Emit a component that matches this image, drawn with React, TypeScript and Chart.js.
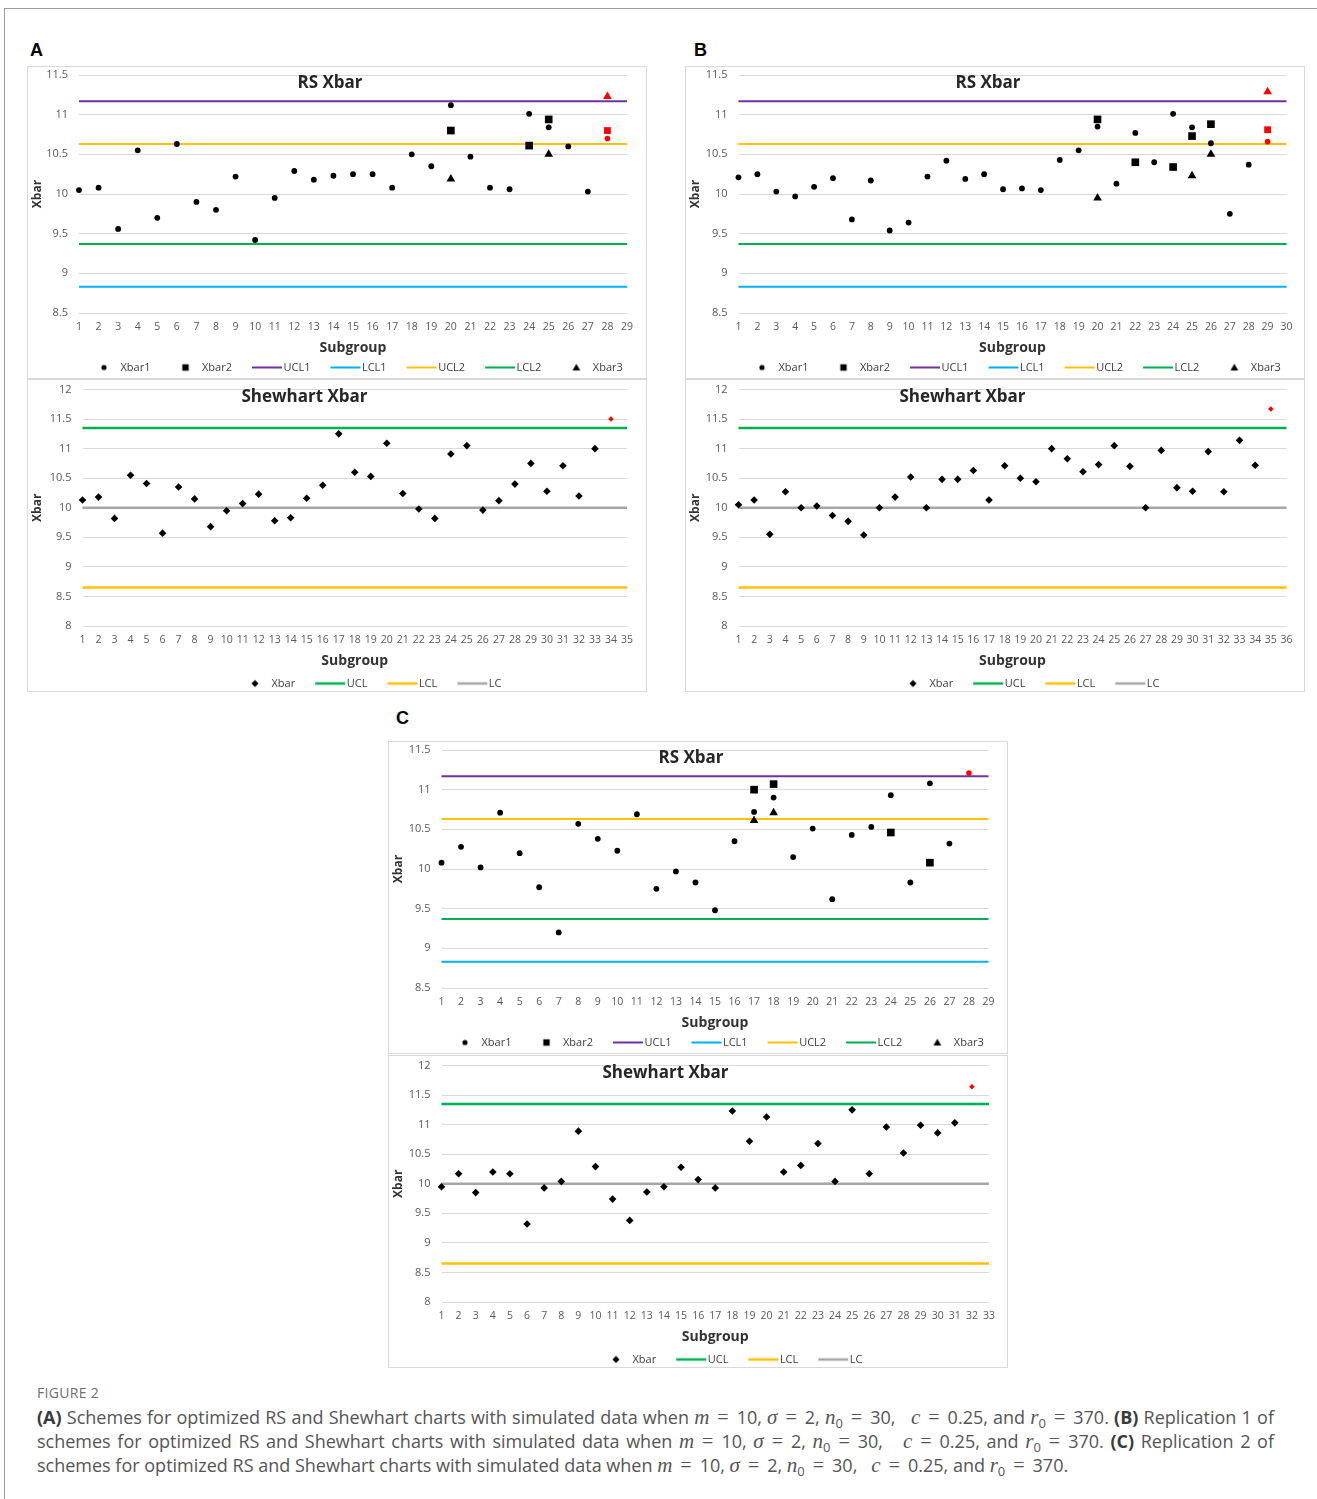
import React, { useEffect, useRef } from "react";
import { Chart, registerables } from "chart.js";

Chart.register(...registerables);

const FONT = "'Open Sans', 'Noto Sans', sans-serif";

// Subgroup numbers on the horizontal axes
const subgroupsA_RS = [1, 2, 3, 4, 5, 6, 7, 8, 9, 10, 11, 12, 13, 14, 15, 16, 17, 18, 19, 20, 21, 22, 23, 24, 25, 26, 27, 28, 29];
const subgroupsA_SH = [1, 2, 3, 4, 5, 6, 7, 8, 9, 10, 11, 12, 13, 14, 15, 16, 17, 18, 19, 20, 21, 22, 23, 24, 25, 26, 27, 28, 29, 30, 31, 32, 33, 34, 35];
const subgroupsB_RS = [1, 2, 3, 4, 5, 6, 7, 8, 9, 10, 11, 12, 13, 14, 15, 16, 17, 18, 19, 20, 21, 22, 23, 24, 25, 26, 27, 28, 29, 30];
const subgroupsB_SH = [1, 2, 3, 4, 5, 6, 7, 8, 9, 10, 11, 12, 13, 14, 15, 16, 17, 18, 19, 20, 21, 22, 23, 24, 25, 26, 27, 28, 29, 30, 31, 32, 33, 34, 35, 36];
const subgroupsC_RS = [1, 2, 3, 4, 5, 6, 7, 8, 9, 10, 11, 12, 13, 14, 15, 16, 17, 18, 19, 20, 21, 22, 23, 24, 25, 26, 27, 28, 29];
const subgroupsC_SH = [1, 2, 3, 4, 5, 6, 7, 8, 9, 10, 11, 12, 13, 14, 15, 16, 17, 18, 19, 20, 21, 22, 23, 24, 25, 26, 27, 28, 29, 30, 31, 32, 33];

// Y-axis ticks
const rsYTicks = [8.5, 9, 9.5, 10, 10.5, 11, 11.5];
const shewhartYTicks = [8, 8.5, 9, 9.5, 10, 10.5, 11, 11.5, 12];

// RS control limits
const UCL1 = 11.17;
const LCL1 = 8.83;
const UCL2 = 10.63;
const LCL2 = 9.37;

// Shewhart control limits
const SH_UCL = 11.35;
const SH_LCL = 8.65;
const SH_LC = 10;

// Panel A: RS sample means (null = no sample taken)
const xbar1A = [10.05, 10.08, 9.56, 10.55, 9.70, 10.63, 9.90, 9.80, 10.22, 9.42,
  9.95, 10.29, 10.18, 10.23, 10.25, 10.25, 10.08, 10.50, 10.35, 11.12,
  10.47, 10.08, 10.06, 11.01, 10.84, 10.60, 10.03, 10.70, null];
const xbar2A = [null, null, null, null, null, null, null, null, null, null,
  null, null, null, null, null, null, null, null, null, 10.80,
  null, null, null, 10.61, 10.94, null, null, 10.80, null];
const xbar3A = [null, null, null, null, null, null, null, null, null, null,
  null, null, null, null, null, null, null, null, null, 10.19,
  null, null, null, null, 10.50, null, null, 11.23, null];
const shewhartA = [10.13, 10.18, 9.82, 10.55, 10.41, 9.57, 10.35, 10.15, 9.68, 9.95,
  10.07, 10.23, 9.78, 9.83, 10.16, 10.38, 11.25, 10.60, 10.53, 11.09,
  10.24, 9.98, 9.82, 10.91, 11.05, 9.96, 10.12, 10.40, 10.75, 10.28,
  10.71, 10.20, 11.00, 11.50, null];

// Panel B: replication 1
const xbar1B = [10.21, 10.25, 10.03, 9.97, 10.09, 10.20, 9.68, 10.17, 9.54, 9.64,
  10.22, 10.42, 10.19, 10.25, 10.06, 10.07, 10.05, 10.43, 10.55, 10.85,
  10.13, 10.77, 10.40, 11.01, 10.84, 10.64, 9.75, 10.37, 10.66, null];
const xbar2B = [null, null, null, null, null, null, null, null, null, null,
  null, null, null, null, null, null, null, null, null, 10.94,
  null, 10.40, null, 10.34, 10.73, 10.88, null, null, 10.81, null];
const xbar3B = [null, null, null, null, null, null, null, null, null, null,
  null, null, null, null, null, null, null, null, null, 9.95,
  null, null, null, null, 10.23, 10.50, null, null, 11.29, null];
const shewhartB = [10.05, 10.13, 9.55, 10.27, 10.00, 10.03, 9.87, 9.77, 9.54, 10.00,
  10.18, 10.52, 10.00, 10.48, 10.48, 10.63, 10.13, 10.71, 10.50, 10.44,
  11.00, 10.83, 10.61, 10.73, 11.05, 10.70, 10.00, 10.97, 10.34, 10.28,
  10.95, 10.27, 11.14, 10.72, 11.67, null];

// Panel C: replication 2
const xbar1C = [10.08, 10.28, 10.02, 10.71, 10.20, 9.77, 9.20, 10.57, 10.38, 10.23,
  10.69, 9.75, 9.97, 9.83, 9.48, 10.35, 10.72, 10.90, 10.15, 10.51,
  9.62, 10.43, 10.53, 10.93, 9.83, 11.08, 10.32, 11.21, null];
const xbar2C = [null, null, null, null, null, null, null, null, null, null,
  null, null, null, null, null, null, 11.00, 11.07, null, null,
  null, null, null, 10.46, null, 10.08, null, null, null];
const xbar3C = [null, null, null, null, null, null, null, null, null, null,
  null, null, null, null, null, null, 10.61, 10.71, null, null,
  null, null, null, null, null, null, null, null, null];
const shewhartC = [9.95, 10.17, 9.85, 10.20, 10.17, 9.32, 9.93, 10.04, 10.89, 10.29,
  9.74, 9.38, 9.86, 9.95, 10.28, 10.07, 9.93, 11.23, 10.72, 11.13,
  10.20, 10.31, 10.68, 10.04, 11.25, 10.17, 10.96, 10.52, 10.99, 10.86,
  11.03, 11.64, null];

// Subgroup at which each chart signals (marked in red)
const signalA_RS = 28;
const signalA_SH = 34;
const signalB_RS = 29;
const signalB_SH = 35;
const signalC_RS = 28;
const signalC_SH = 32;

const PURPLE = "#7030A0";
const BLUE = "#00B0F0";
const GOLD = "#FFC000";
const GREEN = "#00B050";
const GRAY = "#A6A6A6";
const BLACK = "#000000";
const RED = "#FF0000";

const rsLegendOrder = ["Xbar1", "Xbar2", "UCL1", "LCL1", "UCL2", "LCL2", "Xbar3"];
const shewhartLegendOrder = ["Xbar", "UCL", "LCL", "LC"];

const rsLimits = [
  { name: "UCL1", value: UCL1, color: PURPLE },
  { name: "LCL1", value: LCL1, color: BLUE },
  { name: "UCL2", value: UCL2, color: GOLD },
  { name: "LCL2", value: LCL2, color: GREEN },
];
const shewhartLimits = [
  { name: "UCL", value: SH_UCL, color: GREEN },
  { name: "LCL", value: SH_LCL, color: GOLD },
  { name: "LC", value: SH_LC, color: GRAY },
];

type Marker = "circle" | "rect" | "triangle" | "rectRot";
interface PointSeries { name: string; values: (number | null)[]; marker: Marker; }
interface PanelSpec {
  kind: "rs" | "shewhart";
  title: string;
  subgroups: number[];
  yTicks: number[];
  points: PointSeries[];
  limits: { name: string; value: number; color: string }[];
  legendOrder: string[];
  signal: number;
  plotLeft: number;
  plotRight: number;
}

const KIND = {
  rs: { padTop: 8, titleX: 302, titleY: 16.5, legendX: 41, legendY: 300.5, lineWidth: 2 },
  shewhart: { padTop: 9.5, titleX: 276.5, titleY: 17.5, legendX: 192, legendY: 303.5, lineWidth: 2.5 },
};

const MARKER_RADIUS: Record<Marker, number> = { circle: 2.9, rect: 5.4, triangle: 5, rectRot: 3.8 };
const SIGNAL_RADIUS: Record<Marker, number> = { circle: 2.8, rect: 4.8, triangle: 5, rectRot: 2.8 };

const CANVAS_W = 618;
const CANVAS_H = 311;

function makeIcon(kind: string, color: string, lineWidth: number): HTMLCanvasElement {
  const c = document.createElement("canvas");
  c.width = 60;
  c.height = 14;
  const g = c.getContext("2d")!;
  g.fillStyle = color;
  const cx = 42;
  const cy = 7;
  g.beginPath();
  if (kind === "line") {
    g.fillRect(27, cy - lineWidth / 2, 30, lineWidth);
    return c;
  }
  if (kind === "circle") {
    g.arc(cx, cy, 2.6, 0, Math.PI * 2);
  } else if (kind === "rect") {
    g.rect(cx - 3.2, cy - 3.2, 6.4, 6.4);
  } else if (kind === "triangle") {
    g.moveTo(cx, cy - 3.8);
    g.lineTo(cx + 3.9, cy + 3);
    g.lineTo(cx - 3.9, cy + 3);
    g.closePath();
  } else {
    g.moveTo(cx, cy - 3.6);
    g.lineTo(cx + 3.6, cy);
    g.lineTo(cx, cy + 3.6);
    g.lineTo(cx - 3.6, cy);
    g.closePath();
  }
  g.fill();
  return c;
}

// Chart title drawn over the top of the plot area
const panelTitle = {
  id: "panelTitle",
  afterDraw(chart: any, _args: any, opts: any) {
    const ctx = chart.ctx;
    ctx.save();
    ctx.font = `bold 17px ${FONT}`;
    ctx.fillStyle = "#262626";
    ctx.textAlign = "center";
    ctx.textBaseline = "middle";
    ctx.fillText(opts.text, opts.x, opts.y);
    ctx.restore();
  },
};

// Puts the legend row at a fixed place under the axis title
const legendPlacer = {
  id: "legendPlacer",
  afterLayout(chart: any, _args: any, opts: any) {
    const lg = chart.legend;
    if (!lg) return;
    lg.left = opts.x;
    lg.right = opts.x + 2000;
    lg.top = opts.y - 5.5;
    lg.bottom = lg.top + 21;
  },
};

function buildConfig(spec: PanelSpec): any {
  const k = KIND[spec.kind];
  const isSignal = (i: number) => spec.subgroups[i] === spec.signal;

  const pointSets = spec.points.map((p) => ({
    type: "line",
    label: p.name,
    data: p.values,
    showLine: false,
    pointStyle: p.marker,
    pointRadius: (c: any) => (isSignal(c.dataIndex) ? SIGNAL_RADIUS[p.marker] : MARKER_RADIUS[p.marker]),
    pointHoverRadius: (c: any) => (isSignal(c.dataIndex) ? SIGNAL_RADIUS[p.marker] : MARKER_RADIUS[p.marker]),
    pointBackgroundColor: (c: any) => (isSignal(c.dataIndex) ? RED : BLACK),
    pointBorderWidth: 0,
    borderColor: BLACK,
    backgroundColor: BLACK,
    clip: false,
    order: 0,
  }));

  const limitSets = spec.limits.map((l) => ({
    type: "line",
    label: l.name,
    data: spec.subgroups.map(() => l.value),
    borderColor: l.color,
    backgroundColor: l.color,
    borderWidth: k.lineWidth,
    pointRadius: 0,
    pointHoverRadius: 0,
    fill: false,
    tension: 0,
    clip: false,
    order: 1,
  }));

  const icons: Record<string, HTMLCanvasElement> = {};
  spec.points.forEach((p) => { icons[p.name] = makeIcon(p.marker, BLACK, 0); });
  spec.limits.forEach((l) => { icons[l.name] = makeIcon("line", l.color, k.lineWidth); });

  const yMin = spec.yTicks[0];
  const yMax = spec.yTicks[spec.yTicks.length - 1];
  const yStep = spec.yTicks[1] - spec.yTicks[0];

  return {
    type: "line",
    data: {
      labels: spec.subgroups.map(String),
      datasets: [...pointSets, ...limitSets],
    },
    plugins: [panelTitle, legendPlacer],
    options: {
      responsive: false,
      animation: false,
      events: [],
      layout: { padding: { top: k.padTop, bottom: 0, left: 0, right: CANVAS_W - spec.plotRight } },
      scales: {
        x: {
          type: "category",
          offset: false,
          grid: { display: false, drawTicks: false },
          border: { display: false },
          ticks: {
            autoSkip: false,
            maxRotation: 0,
            minRotation: 0,
            padding: 8,
            color: "#595959",
            font: { family: FONT, size: 10.5 },
          },
          title: {
            display: true,
            text: "Subgroup",
            color: "#333333",
            font: { family: FONT, size: 14, weight: "bold" },
            padding: { top: 0, bottom: 1 },
          },
          afterFit: (s: any) => { s.height = 44; },
        },
        y: {
          type: "linear",
          min: yMin,
          max: yMax,
          grid: { color: "#D9D9D9", lineWidth: 1, drawTicks: false },
          border: { display: false },
          ticks: {
            stepSize: yStep,
            padding: 11,
            color: "#595959",
            font: { family: FONT, size: 11 },
            callback: (v: any) => String(Number(v)),
          },
          title: {
            display: true,
            text: "Xbar",
            color: "#333333",
            font: { family: FONT, size: 12, weight: "bold" },
            padding: { top: 2, bottom: 0 },
          },
          afterFit: (s: any) => {
            s.width = spec.plotLeft;
            s.paddingTop = 0;
            s.paddingBottom = 0;
          },
        },
      },
      plugins: {
        tooltip: { enabled: false },
        title: { display: false },
        panelTitle: { text: spec.title, x: k.titleX, y: k.titleY },
        legendPlacer: { x: k.legendX, y: k.legendY },
        legend: {
          display: true,
          position: "bottom",
          align: "start",
          labels: {
            usePointStyle: true,
            pointStyleWidth: 46,
            boxHeight: 11,
            padding: 0,
            color: "#404040",
            font: { family: FONT, size: 11 },
            generateLabels: (chart: any) =>
              spec.legendOrder.map((name) => ({
                text: name,
                pointStyle: icons[name],
                datasetIndex: chart.data.datasets.findIndex((d: any) => d.label === name),
                hidden: false,
                fillStyle: "rgba(0,0,0,0)",
                strokeStyle: "rgba(0,0,0,0)",
                lineWidth: 0,
                fontColor: "#404040",
              })),
          },
        },
      },
    },
  };
}

function Panel({ spec, left, top }: { spec: PanelSpec; left: number; top: number }) {
  const ref = useRef<HTMLCanvasElement | null>(null);
  useEffect(() => {
    if (!ref.current) return;
    const chart = new Chart(ref.current, buildConfig(spec));
    return () => chart.destroy();
  }, [spec]);
  return (
    <div
      style={{
        position: "absolute",
        left,
        top,
        width: 620,
        height: 313,
        boxSizing: "border-box",
        border: "1px solid #D9D9D9",
        background: "#FFFFFF",
      }}
    >
      <canvas ref={ref} width={CANVAS_W} height={CANVAS_H} style={{ display: "block", width: CANVAS_W, height: CANVAS_H }} />
    </div>
  );
}

const rsPoints = (x1: (number | null)[], x2: (number | null)[], x3: (number | null)[]): PointSeries[] => [
  { name: "Xbar1", values: x1, marker: "circle" },
  { name: "Xbar2", values: x2, marker: "rect" },
  { name: "Xbar3", values: x3, marker: "triangle" },
];

const panels: { spec: PanelSpec; left: number; top: number }[] = [
  {
    left: 27, top: 66,
    spec: { kind: "rs", title: "RS Xbar", subgroups: subgroupsA_RS, yTicks: rsYTicks, points: rsPoints(xbar1A, xbar2A, xbar3A), limits: rsLimits, legendOrder: rsLegendOrder, signal: signalA_RS, plotLeft: 51, plotRight: 599 },
  },
  {
    left: 27, top: 379,
    spec: { kind: "shewhart", title: "Shewhart Xbar", subgroups: subgroupsA_SH, yTicks: shewhartYTicks, points: [{ name: "Xbar", values: shewhartA, marker: "rectRot" }], limits: shewhartLimits, legendOrder: shewhartLegendOrder, signal: signalA_SH, plotLeft: 54.5, plotRight: 599 },
  },
  {
    left: 685, top: 66,
    spec: { kind: "rs", title: "RS Xbar", subgroups: subgroupsB_RS, yTicks: rsYTicks, points: rsPoints(xbar1B, xbar2B, xbar3B), limits: rsLimits, legendOrder: rsLegendOrder, signal: signalB_RS, plotLeft: 52.5, plotRight: 600.5 },
  },
  {
    left: 685, top: 379,
    spec: { kind: "shewhart", title: "Shewhart Xbar", subgroups: subgroupsB_SH, yTicks: shewhartYTicks, points: [{ name: "Xbar", values: shewhartB, marker: "rectRot" }], limits: shewhartLimits, legendOrder: shewhartLegendOrder, signal: signalB_SH, plotLeft: 52.5, plotRight: 600.5 },
  },
  {
    left: 388, top: 741,
    spec: { kind: "rs", title: "RS Xbar", subgroups: subgroupsC_RS, yTicks: rsYTicks, points: rsPoints(xbar1C, xbar2C, xbar3C), limits: rsLimits, legendOrder: rsLegendOrder, signal: signalC_RS, plotLeft: 52.5, plotRight: 599.5 },
  },
  {
    left: 388, top: 1055,
    spec: { kind: "shewhart", title: "Shewhart Xbar", subgroups: subgroupsC_SH, yTicks: shewhartYTicks, points: [{ name: "Xbar", values: shewhartC, marker: "rectRot" }], limits: shewhartLimits, legendOrder: shewhartLegendOrder, signal: signalC_SH, plotLeft: 52.5, plotRight: 600 },
  },
];

const mathVar: React.CSSProperties = { fontFamily: "'Liberation Serif', 'DejaVu Serif', serif", fontStyle: "italic", fontSize: 21 };
const subStyle: React.CSSProperties = { fontSize: 13, position: "relative", top: 4, lineHeight: 0, verticalAlign: "baseline" };
const eqStyle: React.CSSProperties = { margin: "0 8px", fontFamily: "'Liberation Serif', 'DejaVu Serif', serif", fontSize: 20 };

function Eq() {
  return <span style={eqStyle}>=</span>;
}

function Params() {
  return (
    <>
      <span style={mathVar}>m</span><Eq />10, <span style={mathVar}>σ</span><Eq />2,{" "}
      <span style={mathVar}>n</span>
      <span style={subStyle}>0</span><Eq />30,&nbsp;&nbsp; <span style={mathVar}>c</span><Eq />0.25, and{" "}
      <span style={mathVar}>r</span>
      <span style={subStyle}>0</span><Eq />370.
    </>
  );
}

const letterStyle: React.CSSProperties = {
  position: "absolute",
  fontFamily: "'Liberation Sans', Arial, sans-serif",
  fontWeight: "bold",
  fontSize: 18,
  lineHeight: "18px",
  color: "#000",
};

const fullLine: React.CSSProperties = { height: 24, textAlign: "justify", textAlignLast: "justify" as any, whiteSpace: "normal" };

export default function App() {
  return (
    <div
      style={{
        position: "absolute",
        left: 0,
        top: 0,
        width: 1317,
        height: 1499,
        background: "#FFFFFF",
        overflow: "hidden",
        fontFamily: FONT,
      }}
    >
      <div
        style={{
          position: "absolute",
          left: 4,
          top: 8,
          width: 1320,
          height: 1500,
          borderTop: "1px solid #9E9E9E",
          borderLeft: "1px solid #9E9E9E",
        }}
      />
      <div style={{ ...letterStyle, left: 30, top: 41 }}>A</div>
      <div style={{ ...letterStyle, left: 694, top: 41 }}>B</div>
      <div style={{ ...letterStyle, left: 396, top: 709 }}>C</div>
      {panels.map((p, i) => (
        <Panel key={i} spec={p.spec} left={p.left} top={p.top} />
      ))}
      <div
        style={{
          position: "absolute",
          left: 37,
          top: 1385,
          fontSize: 14,
          lineHeight: "16px",
          color: "#6E6E6E",
          letterSpacing: 0.3,
        }}
      >
        FIGURE 2
      </div>
      <div
        style={{
          position: "absolute",
          left: 37,
          top: 1405,
          width: 1237,
          fontSize: 18,
          lineHeight: "24px",
          color: "#555555",
        }}
      >
        <div style={fullLine}>
          <b style={{ color: "#3A3A3A" }}>(A)</b> Schemes for optimized RS and Shewhart charts with simulated data when <Params />{" "}
          <b style={{ color: "#3A3A3A" }}>(B)</b> Replication 1 of
        </div>
        <div style={fullLine}>
          schemes for optimized RS and Shewhart charts with simulated data when <Params />{" "}
          <b style={{ color: "#3A3A3A" }}>(C)</b> Replication 2 of
        </div>
        <div style={{ height: 24, whiteSpace: "nowrap" }}>
          schemes for optimized RS and Shewhart charts with simulated data when <Params />
        </div>
      </div>
    </div>
  );
}
